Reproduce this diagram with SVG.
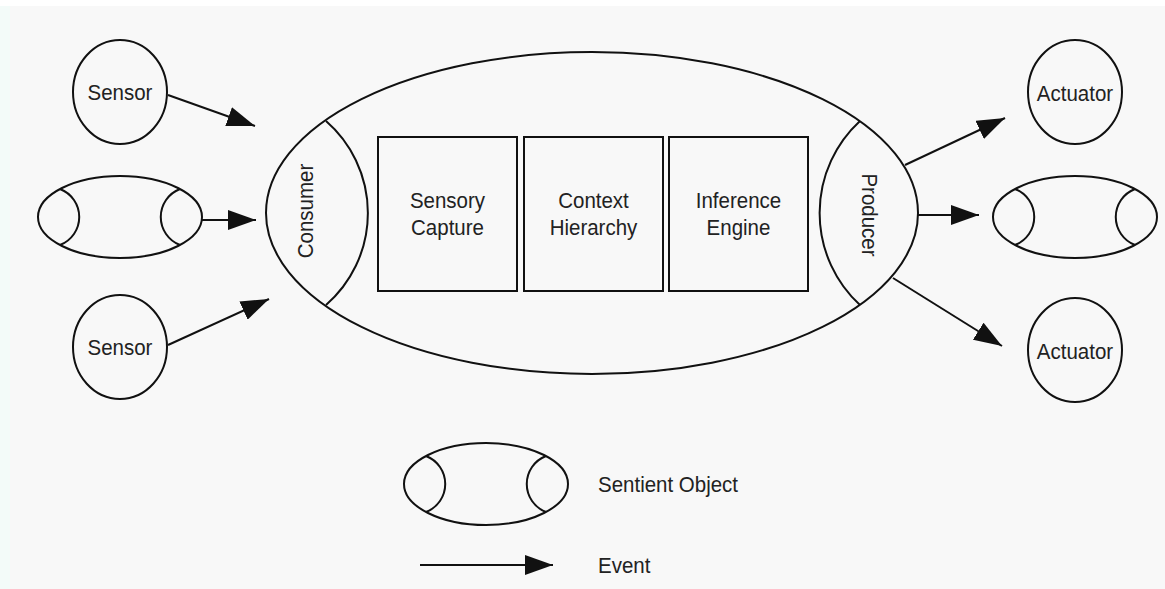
<svg xmlns="http://www.w3.org/2000/svg" xmlns:xlink="http://www.w3.org/1999/xlink" width="1165" height="589" viewBox="0 0 1165 589">
  <defs>
    <style>
      .ln { fill: none; stroke: #111; stroke-width: 2; }
      .shape { fill: none; stroke: #111; stroke-width: 2; }
      .lbl, .lgd { font-family: "Liberation Sans", Arial, sans-serif; font-size: 20.5px; fill: #222;
                   transform: scaleY(1.1); transform-box: fill-box; transform-origin: center; }
      .lbl { text-anchor: middle; }
      .lgd { text-anchor: start; }
    </style>
    <marker id="head" viewBox="0 0 28 20" refX="28" refY="10" markerWidth="28" markerHeight="20" markerUnits="userSpaceOnUse" orient="auto">
      <path d="M0,0 L28,10 L0,20 Z" fill="#111"/>
    </marker>
    <!-- sentient object: outer ellipse with consumer / producer caps -->
    <g id="sentient">
      <ellipse cx="0" cy="0" rx="82" ry="41" class="shape"/>
      <path d="M-60,-28 A30,30 0 0 1 -60,28" class="shape"/>
      <path d="M60,-28 A30,30 0 0 0 60,28" class="shape"/>
    </g>
  </defs>

  <!-- background -->
  <rect x="0" y="0" width="1165" height="589" fill="#ffffff"/>
  <rect x="0" y="6" width="10" height="583" fill="#f3fbf9"/>
  <rect x="10" y="6" width="1155" height="583" fill="#f8f8f8"/>

  <!-- sources -->
  <g id="sensor-top">
    <ellipse cx="120" cy="92" rx="47" ry="52" class="shape"/>
    <text x="120" y="99" class="lbl">Sensor</text>
  </g>
  <g id="sentient-left">
    <use xlink:href="#sentient" x="120" y="217"/>
  </g>
  <g id="sensor-bottom">
    <ellipse cx="120" cy="347" rx="47" ry="52" class="shape"/>
    <text x="120" y="354" class="lbl">Sensor</text>
  </g>

  <!-- central sentient object -->
  <g id="core">
    <ellipse cx="592" cy="213" rx="326" ry="161" class="shape"/>
  </g>
  <g id="consumer">
    <path d="M326,121 A122,122 0 0 1 326,305" class="shape"/>
    <g transform="translate(312,211) rotate(-90)">
      <text x="0" y="0" class="lbl">Consumer</text>
    </g>
  </g>
  <g id="sensory-capture">
    <rect x="378" y="137" width="139" height="154" class="shape"/>
    <text x="447.5" y="207" class="lbl">Sensory</text>
    <text x="447.5" y="234" class="lbl">Capture</text>
  </g>
  <g id="context-hierarchy">
    <rect x="524" y="137" width="139" height="154" class="shape"/>
    <text x="593.5" y="207" class="lbl">Context</text>
    <text x="593.5" y="234" class="lbl">Hierarchy</text>
  </g>
  <g id="inference-engine">
    <rect x="669" y="137" width="139" height="154" class="shape"/>
    <text x="738.5" y="207" class="lbl">Inference</text>
    <text x="738.5" y="234" class="lbl">Engine</text>
  </g>
  <g id="producer">
    <path d="M860,121 A125,125 0 0 0 860,305" class="shape"/>
    <g transform="translate(863,215) rotate(90)">
      <text x="0" y="0" class="lbl">Producer</text>
    </g>
  </g>

  <!-- sinks -->
  <g id="actuator-top">
    <ellipse cx="1075" cy="92" rx="47" ry="52" class="shape"/>
    <text x="1075" y="100" class="lbl">Actuator</text>
  </g>
  <g id="sentient-right">
    <use xlink:href="#sentient" x="1075" y="217"/>
  </g>
  <g id="actuator-bottom">
    <ellipse cx="1075" cy="350" rx="47" ry="52" class="shape"/>
    <text x="1075" y="358" class="lbl">Actuator</text>
  </g>

  <!-- events -->
  <g id="connectors">
    <line x1="168" y1="95" x2="255" y2="126" class="ln" marker-end="url(#head)"/>
    <line x1="202" y1="220" x2="256" y2="220" class="ln" marker-end="url(#head)"/>
    <line x1="168" y1="345" x2="269" y2="299" class="ln" marker-end="url(#head)"/>
    <line x1="905" y1="165" x2="1005" y2="118" class="ln" marker-end="url(#head)"/>
    <line x1="918" y1="215" x2="979" y2="215" class="ln" marker-end="url(#head)"/>
    <line x1="893" y1="278" x2="1002" y2="346" class="ln" marker-end="url(#head)"/>
  </g>

  <!-- legend -->
  <g id="legend-sentient">
    <use xlink:href="#sentient" x="486" y="484"/>
    <text x="598" y="491" class="lgd">Sentient Object</text>
  </g>
  <g id="legend-event">
    <line x1="420" y1="565" x2="553" y2="565" class="ln" marker-end="url(#head)"/>
    <text x="598" y="572" class="lgd">Event</text>
  </g>
</svg>
